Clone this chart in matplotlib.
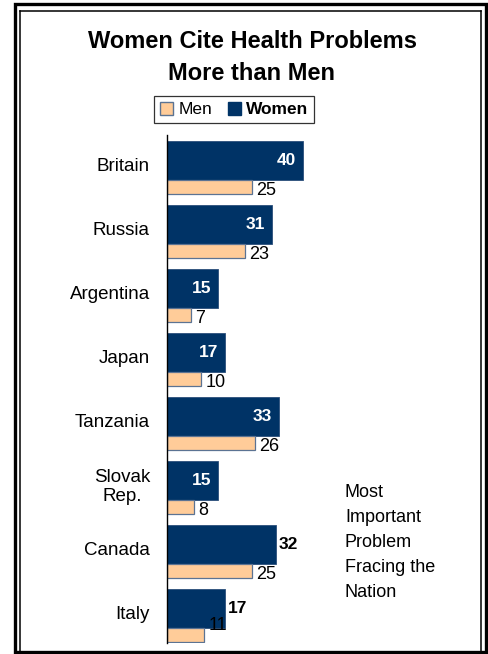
import matplotlib.pyplot as plt
from matplotlib.patches import Patch, Rectangle
from matplotlib.lines import Line2D

plt.rcParams['font.family'] = ['Liberation Sans', 'DejaVu Sans']

countries = ["Britain", "Russia", "Argentina", "Japan", "Tanzania",
             "Slovak\nRep.", "Canada", "Italy"]
women = [40, 31, 15, 17, 33, 15, 32, 17]
men = [25, 23, 7, 10, 26, 8, 25, 11]

NAVY = '#003366'
PEACH = '#FFCC99'
EDGE = '#5B7393'

W, H = 488, 654
fig = plt.figure(figsize=(W / 100, H / 100), dpi=100)


def fx(px):
    return px / W


def fy(py):
    return 1 - py / H


# double frame around the chart
fig.patches.append(Rectangle((fx(15), fy(652)), fx(486) - fx(15), fy(4) - fy(652),
                             transform=fig.transFigure, fill=False,
                             edgecolor='black', linewidth=2.4))
for xs, ys in [([20, 20], [652, 11]), ([20, 481], [11, 11]), ([481, 481], [11, 652])]:
    fig.lines.append(Line2D([fx(x) for x in xs], [fy(y) for y in ys],
                            transform=fig.transFigure, color='black', linewidth=1.1))

fig.text(fx(252), fy(42), "Women Cite Health Problems", ha='center', va='center',
         fontsize=17, fontweight='bold')
fig.text(fx(252), fy(74), "More than Men", ha='center', va='center',
         fontsize=17, fontweight='bold')

# bar area: axis line at x=167px, 3.4 px per point, 64 px per row
left, right, top, bottom = 167, 470, 135, 643
ax = fig.add_axes([fx(left), fy(bottom), fx(right) - fx(left), fy(top) - fy(bottom)])
ax.set_xlim(0, (right - left) / 3.4)
ax.set_ylim(7.84, -0.1)

wh, mh = 0.61, 0.21
ys = list(range(len(countries)))
ax.barh([y + wh / 2 for y in ys], women, height=wh, color=NAVY,
        edgecolor='#2B4E7A', linewidth=0.6)
ax.barh([y + wh + mh / 2 for y in ys], men, height=mh, color=PEACH,
        edgecolor=EDGE, linewidth=0.9)

for spine in ['top', 'right', 'bottom']:
    ax.spines[spine].set_visible(False)
ax.spines['left'].set_linewidth(1.0)
ax.set_xticks([])
ax.set_yticks([])

outside = {"Canada", "Italy"}
for y, name, w, m in zip(ys, countries, women, men):
    ax.text(-17 / 3.4, y + 0.4, name, ha='right', va='center',
            multialignment='center', fontsize=13.5)
    if name in outside:
        ax.annotate(str(w), (w, y + wh / 2), xytext=(2, 0), textcoords='offset points',
                    ha='left', va='center', fontsize=12.5, fontweight='bold')
    else:
        ax.annotate(str(w), (w, y + wh / 2), xytext=(-5, 0), textcoords='offset points',
                    ha='right', va='center', fontsize=12.5, fontweight='bold',
                    color='white')
    dy = 7 if name == "Italy" else -2.5
    ax.annotate(str(m), (m, y + wh + mh / 2), xytext=(3, dy), textcoords='offset points',
                ha='left', va='center', fontsize=13)

handles = [Patch(facecolor=PEACH, edgecolor=EDGE, label='Men'),
           Patch(facecolor=NAVY, edgecolor=NAVY, label='Women')]
leg = fig.legend(handles=handles, loc='center', bbox_to_anchor=(fx(234), fy(109.5)),
                 ncol=2, fontsize=12.5, frameon=True, fancybox=False,
                 handlelength=0.75, handleheight=0.75, handletextpad=0.3,
                 columnspacing=0.9, borderpad=0.35, borderaxespad=0)
leg.get_frame().set_edgecolor('black')
leg.get_frame().set_linewidth(0.9)
leg.get_texts()[1].set_fontweight('bold')

fig.text(fx(345), fy(542.5), "Most\nImportant\nProblem\nFracing the\nNation",
         ha='left', va='center', fontsize=13, linespacing=1.6)

fig.savefig('out.png', dpi=100)
